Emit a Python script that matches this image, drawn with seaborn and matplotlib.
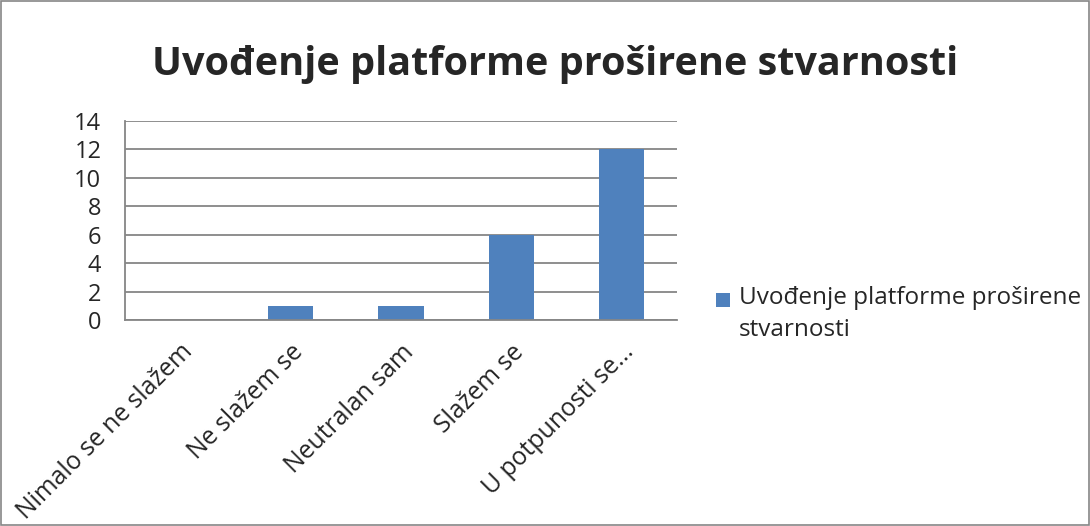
import matplotlib
matplotlib.use("Agg")
import matplotlib.pyplot as plt
import seaborn as sns
import pandas as pd
from matplotlib.patches import Rectangle
from matplotlib.legend_handler import HandlerPatch

categories = ["Nimalo se ne slažem", "Ne slažem se", "Neutralan sam", "Slažem se", "U potpunosti se..."]
values = [0, 1, 1, 6, 12]
series_name = "Uvođenje platforme proširene stvarnosti"
legend_label = "Uvođenje platforme proširene\nstvarnosti"
title = "Uvođenje platforme proširene stvarnosti"
yticks = [0, 2, 4, 6, 8, 10, 12, 14]

sns.set_theme(style="white")
plt.rcParams['font.family'] = ['Open Sans', 'DejaVu Sans']

df = pd.DataFrame({"cat": categories, "val": values, "series": legend_label})

fig = plt.figure(figsize=(10.9, 5.26), dpi=100)
ax = fig.add_axes([125/1090, 1-320/526, (677-125)/1090, (320-121)/526])

sns.barplot(data=df, x="cat", y="val", hue="series", palette=["#4F81BD"],
            width=0.41, ax=ax, saturation=1, legend=True, linewidth=0)

ax.set_ylim(0, 14)
ax.set_yticks(yticks)
ax.set_yticklabels([str(t) for t in yticks], fontsize=17)
ax.set_xlim(-0.5, len(categories)-0.5)
ax.set_xlabel("")
ax.set_ylabel("")
ax.yaxis.grid(True, color="#868686", linewidth=1.3)
ax.set_axisbelow(True)
for s in ["top", "right"]:
    ax.spines[s].set_visible(False)
for s in ["left", "bottom"]:
    ax.spines[s].set_color("#868686")
    ax.spines[s].set_linewidth(1.3)
ax.tick_params(axis="y", length=0, pad=17)
ax.tick_params(axis="x", length=0, pad=14)
ax.set_xticks(range(len(categories)))
ax.set_xticklabels(categories, rotation=45, ha="right", rotation_mode="anchor", fontsize=17.8)


def square_patch(legend, orig_handle, xdescent, ydescent, width, height, fontsize):
    s = 10.0
    return Rectangle((-xdescent + width - s, -ydescent + 0.62 * fontsize), s, s)


handles, labels = ax.get_legend_handles_labels()
leg = ax.legend(handles, labels, loc="center left", bbox_to_anchor=(1.07, 0.03), frameon=False,
                fontsize=17.5, handlelength=0.6, handleheight=0.55, handletextpad=0.35,
                borderpad=0, borderaxespad=0,
                handler_map={type(handles[0]): HandlerPatch(patch_func=square_patch)})
for t in leg.get_texts():
    t.set_linespacing(1.45)

fig.text(0.509, 0.878, title, ha="center", va="center", fontsize=28.5, fontweight="bold")
fig.patches.append(Rectangle((0.001, 0.001), 0.998, 0.997, transform=fig.transFigure,
                             fill=False, edgecolor="#868686", linewidth=1.2))

fig.savefig("out.png", dpi=100)
